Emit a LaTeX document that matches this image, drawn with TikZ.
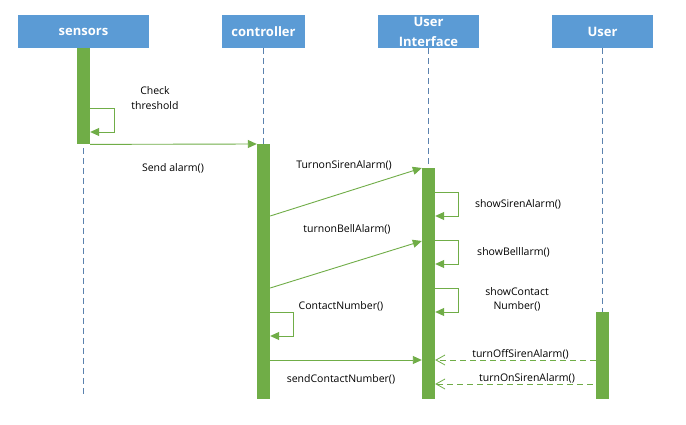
\documentclass[tikz,border=0pt]{standalone}
\usepackage{fontspec}
\setmainfont{Open Sans}
\usetikzlibrary{arrows.meta,calc}
\definecolor{hdrblue}{HTML}{5B9BD5}
\definecolor{actgreen}{HTML}{70AD47}
\definecolor{lifeblue}{HTML}{5B82AE}
\begin{document}
\begin{tikzpicture}[x=1pt,y=-1pt,
  header/.style={fill=hdrblue,draw=none,minimum height=33pt,inner sep=0pt,
    text=white,font=\fontsize{13}{19}\selectfont\bfseries,align=center},
  lifeline/.style={draw=lifeblue,line width=0.9pt,dash pattern=on 6pt off 4pt},
  actbar/.style={fill=actgreen,draw=none,minimum width=13pt,inner sep=0pt,anchor=north},
  msg/.style={draw=actgreen,line width=0.9pt,-{Triangle[length=9pt,width=8pt]}},
  reply/.style={draw=actgreen,line width=0.9pt,dash pattern=on 6pt off 4pt,
    -{Straight Barb[length=9pt,width=10pt,line width=0.8pt]}},
  lbl/.style={font=\fontsize{10.5}{14.5}\selectfont,align=center,inner sep=0pt}]

\fill[white] (0,0) rectangle (686,425);
\useasboundingbox (0,0) rectangle (686,425);

% participants
\node[header,minimum width=131pt] (sensors) at (83.5,31.5) {sensors};
\node[header,minimum width=83pt] (controller) at (263.5,31.5) {controller};
\node[header,minimum width=101pt,font=\fontsize{13}{20}\selectfont\bfseries] (ui) at (428.5,31.5) {User\\Interface};
\node[header,minimum width=101pt] (user) at (602.5,31.5) {User};

% lifeline ends
\coordinate (sensorsend) at (83.5,398);
\coordinate (controllerend) at (263.5,398);
\coordinate (uiend) at (428.5,398);
\coordinate (userend) at (602.5,398);

\draw[lifeline] (sensors.south) -- (sensorsend);
\draw[lifeline] (controller.south) -- (controllerend);
\draw[lifeline] (ui.south) -- (uiend);
\draw[lifeline] (user.south) -- (userend);

% activation bars
\node[actbar,minimum height=96pt] (sbar) at (83.5,48) {};
\node[actbar,minimum height=255pt] (cbar) at (263.5,144) {};
\node[actbar,minimum height=231pt] (uibar) at (428.5,168) {};
\node[actbar,minimum height=87pt] (ubar) at (602.5,312) {};

% sensors: check threshold
\draw[msg] ($(sbar.north east)+(0,60)$) -| ++(24,24) -- ($(sbar.north east)+(0,84)$);
\node[lbl] (lcheck) at (155,98) {Check\\threshold};

% sensors -> controller
\draw[msg] (sbar.south east) -- (cbar.north west);
\node[lbl] (lsend) at (173,168) {Send alarm()};

% controller -> user interface
\draw[msg] ($(cbar.north east)+(0,72)$) -- (uibar.north west);
\node[lbl] (lsiren) at (344,165) {TurnonSirenAlarm()};
\draw[msg] ($(cbar.north east)+(0,144)$) -- ($(uibar.north west)+(0,73)$);
\node[lbl] (lbell) at (347,229) {turnonBellAlarm()};

% controller: contact number
\draw[msg] ($(cbar.north east)+(0,168)$) -| ++(23,24) -- ($(cbar.north east)+(0,192)$);
\node[lbl] (lcontact) at (341,306) {ContactNumber()};

\draw[msg] ($(cbar.north east)+(0,216)$) -- ($(uibar.north west)+(0,192)$);
\node[lbl] (lsendcontact) at (341,379) {sendContactNumber()};

% user interface self calls
\draw[msg] ($(uibar.north east)+(0,24)$) -| ++(23,24) -- ($(uibar.north east)+(0,48)$);
\node[lbl] (lshowsiren) at (518,204) {showSirenAlarm()};
\draw[msg] ($(uibar.north east)+(0,72)$) -| ++(23,24) -- ($(uibar.north east)+(0,96)$);
\node[lbl] (lshowbell) at (513.5,252) {showBelllarm()};
\draw[msg] ($(uibar.north east)+(0,120)$) -| ++(23,24) -- ($(uibar.north east)+(0,144)$);
\node[lbl] (lshowcontact) at (517,299.5) {showContact\\Number()};

% user -> user interface
\draw[reply] ($(ubar.north west)+(0,48)$) -- ($(uibar.north east)+(0,192)$);
\node[lbl] (loff) at (520.5,354) {turnOffSirenAlarm()};
\draw[reply] ($(ubar.north)+(0,72)$) -- ($(uibar.north east)+(0,216)$);
\node[lbl] (lon) at (527,378) {turnOnSirenAlarm()};

\end{tikzpicture}
\end{document}
